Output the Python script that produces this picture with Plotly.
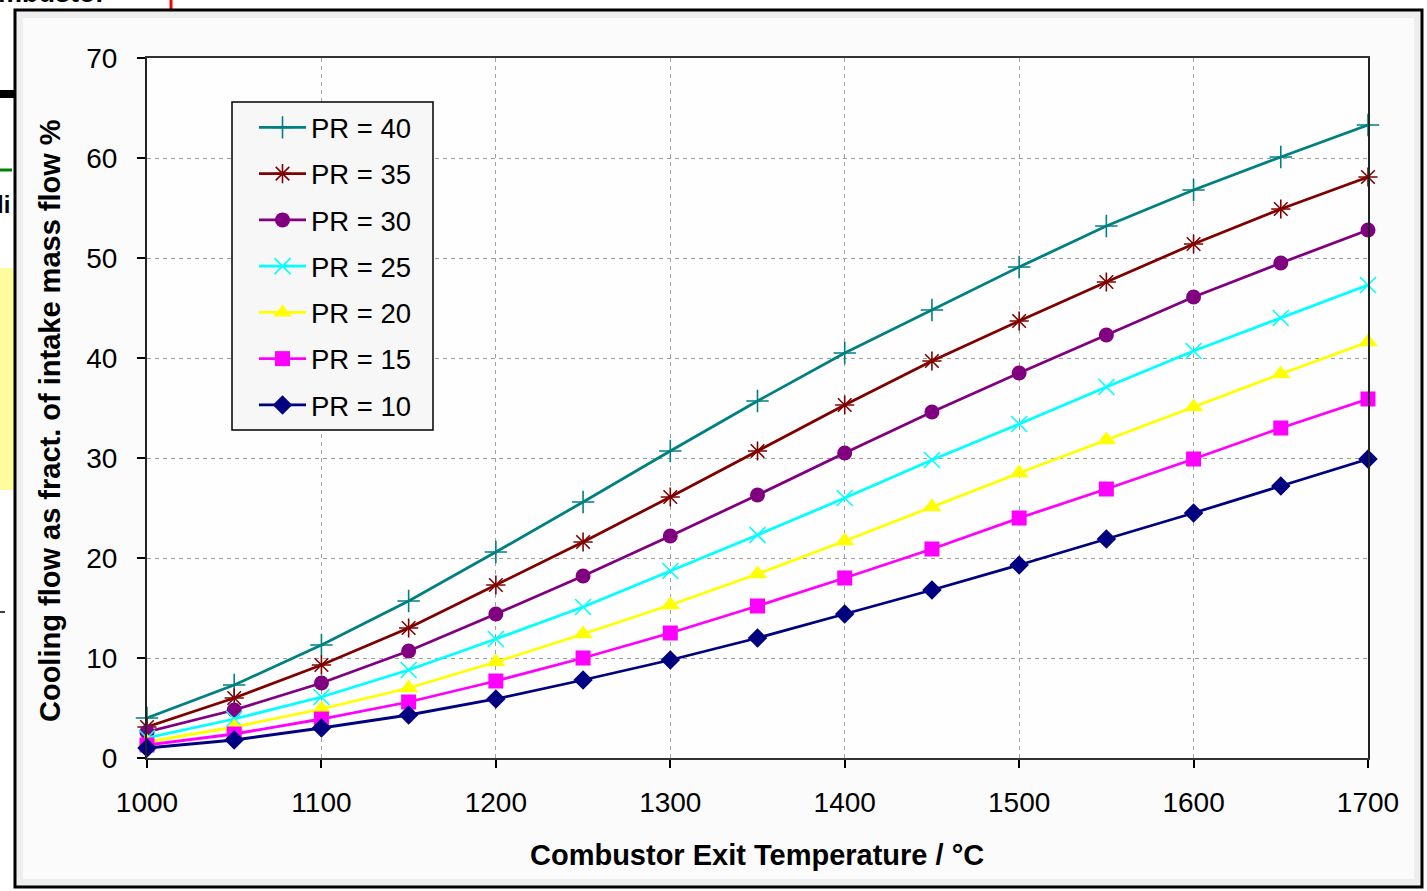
import plotly.graph_objects as go

temps = [1000, 1050, 1100, 1150, 1200, 1250, 1300, 1350, 1400, 1450, 1500, 1550, 1600, 1650, 1700]

pr40 = [4.0, 7.3, 11.3, 15.7, 20.6, 25.6, 30.7, 35.7, 40.5, 44.8, 49.1, 53.2, 56.8, 60.1, 63.3]
pr35 = [3.1, 6.0, 9.3, 13.0, 17.3, 21.6, 26.1, 30.7, 35.3, 39.7, 43.7, 47.6, 51.4, 54.9, 58.1]
pr30 = [2.6, 4.8, 7.5, 10.7, 14.4, 18.2, 22.2, 26.3, 30.5, 34.6, 38.5, 42.3, 46.1, 49.5, 52.8]
pr25 = [2.0, 3.9, 6.1, 8.8, 11.9, 15.1, 18.7, 22.3, 26.0, 29.8, 33.4, 37.1, 40.7, 44.0, 47.3]
pr20 = [1.6, 3.1, 4.9, 7.0, 9.6, 12.4, 15.3, 18.4, 21.7, 25.1, 28.5, 31.8, 35.1, 38.4, 41.6]
pr15 = [1.3, 2.4, 3.9, 5.6, 7.7, 10.0, 12.5, 15.2, 18.0, 20.9, 24.0, 26.9, 29.9, 33.0, 35.9]
pr10 = [1.0, 1.8, 3.0, 4.3, 5.9, 7.8, 9.8, 12.0, 14.4, 16.8, 19.3, 21.9, 24.5, 27.2, 29.9]

series_names = ["PR = 40", "PR = 35", "PR = 30", "PR = 25", "PR = 20", "PR = 15", "PR = 10"]
series_values = [pr40, pr35, pr30, pr25, pr20, pr15, pr10]
series_colors = ["#008080", "#800000", "#800080", "#00FFFF", "#FFFF00", "#FF00FF", "#000080"]
series_symbols = ["cross-thin", "asterisk", "circle", "x-thin", "triangle-up", "square", "diamond"]

x_ticks = [1000, 1100, 1200, 1300, 1400, 1500, 1600, 1700]
y_ticks = [0, 10, 20, 30, 40, 50, 60, 70]

W, H = 1427, 891
L, R, T, B = 147, 1368, 58, 758


def px(xp):
    return (xp - L) / (R - L)


def py(yp):
    return (B - yp) / (B - T)


FONT = "Liberation Sans, Arial, sans-serif"

fig = go.Figure()
for name, vals, col, sym in zip(series_names, series_values, series_colors, series_symbols):
    thin = sym in ("cross-thin", "asterisk", "x-thin")
    size = 16 if thin else (17 if sym == "triangle-up" else 15)
    marker = dict(symbol=sym, color=col, size=size,
                  line=dict(width=1.6 if thin else 0, color=col))
    fig.add_trace(go.Scatter(
        x=temps, y=vals, name=name, mode="lines+markers",
        line=dict(color=col, width=2.8), marker=marker,
        cliponaxis=False, legendgroup=name,
    ))

shapes = [
    # slide artifacts on the left edge
    dict(type="rect", xref="paper", yref="paper", x0=px(0), x1=px(14), y0=py(268), y1=py(490),
         fillcolor="#fdfd9d", line=dict(width=0), layer="below"),
    dict(type="rect", xref="paper", yref="paper", x0=px(0), x1=px(14), y0=py(90), y1=py(98),
         fillcolor="black", line=dict(width=0), layer="below"),
    dict(type="line", xref="paper", yref="paper", x0=px(0), x1=px(12), y0=py(170), y1=py(170),
         line=dict(color="green", width=3), layer="below"),
    dict(type="line", xref="paper", yref="paper", x0=px(0), x1=px(5), y0=py(612), y1=py(612),
         line=dict(color="black", width=1.5), layer="below"),
    dict(type="line", xref="paper", yref="paper", x0=px(171), x1=px(171), y0=py(0), y1=py(10),
         line=dict(color="red", width=3), layer="below"),
    # chart frame
    dict(type="rect", xref="paper", yref="paper", x0=px(15), x1=px(1422), y0=py(10), y1=py(887),
         fillcolor="#eeeeee", line=dict(color="black", width=3), layer="below"),
    dict(type="rect", xref="paper", yref="paper", x0=px(23), x1=px(1414), y0=py(18), y1=py(879),
         fillcolor="#fbfbfb", line=dict(width=0), layer="below"),
    dict(type="rect", xref="paper", yref="paper", x0=0, x1=1, y0=0, y1=1,
         fillcolor="#fefefe", line=dict(width=0), layer="below"),
    # legend box
    dict(type="rect", xref="paper", yref="paper", x0=px(232), x1=px(433), y0=py(102), y1=py(430),
         fillcolor="#f7f7f7", line=dict(color="black", width=1.5), layer="above"),
]

annotations = [
    dict(text="<b>Cooling flow as fract. of intake mass flow %</b>", xref="paper", yref="paper",
         x=px(50), y=py(421), textangle=-90, showarrow=False, xanchor="center", yanchor="middle",
         font=dict(family=FONT, size=29, color="black")),
    dict(text="<b>Combustor Exit Temperature / °C</b>", xref="paper", yref="paper",
         x=px(757), y=py(855), showarrow=False, xanchor="center", yanchor="middle",
         font=dict(family=FONT, size=29, color="black")),
    dict(text="<b>mbustor</b>", xref="paper", yref="paper", x=px(108), y=py(10),
         showarrow=False, xanchor="right", yanchor="bottom",
         font=dict(family=FONT, size=27, color="black")),
    dict(text="<b>li</b>", xref="paper", yref="paper", x=px(12), y=py(205),
         showarrow=False, xanchor="right", yanchor="middle",
         font=dict(family=FONT, size=24, color="black")),
]

fig.update_layout(
    width=W, height=H, autosize=False,
    margin=dict(l=L, r=W - R, t=T, b=H - B, pad=0),
    paper_bgcolor="white", plot_bgcolor="#fefefe",
    font=dict(family=FONT, size=28, color="black"),
    shapes=shapes, annotations=annotations,
    showlegend=True,
    legend=dict(x=px(254), y=py(103), xanchor="left", yanchor="top",
                bgcolor="rgba(0,0,0,0)", borderwidth=0,
                font=dict(family=FONT, size=27.5, color="black"),
                tracegroupgap=7.5, itemwidth=47),
    xaxis=dict(range=[1000, 1700], tickvals=x_ticks, ticktext=[str(v) for v in x_ticks],
               showgrid=True, gridcolor="#a0a0a0", griddash="4px,4px", gridwidth=1.2,
               showline=True, linecolor="#333333", linewidth=2, mirror=True,
               ticks="outside", ticklen=8, tickwidth=1.5, tickcolor="black",
               ticklabelstandoff=10, zeroline=False,
               tickfont=dict(family=FONT, size=28, color="black")),
    yaxis=dict(range=[0, 70], tickvals=y_ticks, ticktext=[str(v) for v in y_ticks],
               showgrid=True, gridcolor="#a0a0a0", griddash="4px,4px", gridwidth=1.2,
               showline=True, linecolor="#222222", linewidth=2, mirror=True,
               ticks="outside", ticklen=8, tickwidth=1.5, tickcolor="black",
               ticklabelstandoff=14, zeroline=False,
               tickfont=dict(family=FONT, size=28, color="black")),
)

fig.write_html("out.html", config={"displayModeBar": False},
               post_script="document.body.style.margin='0';")
